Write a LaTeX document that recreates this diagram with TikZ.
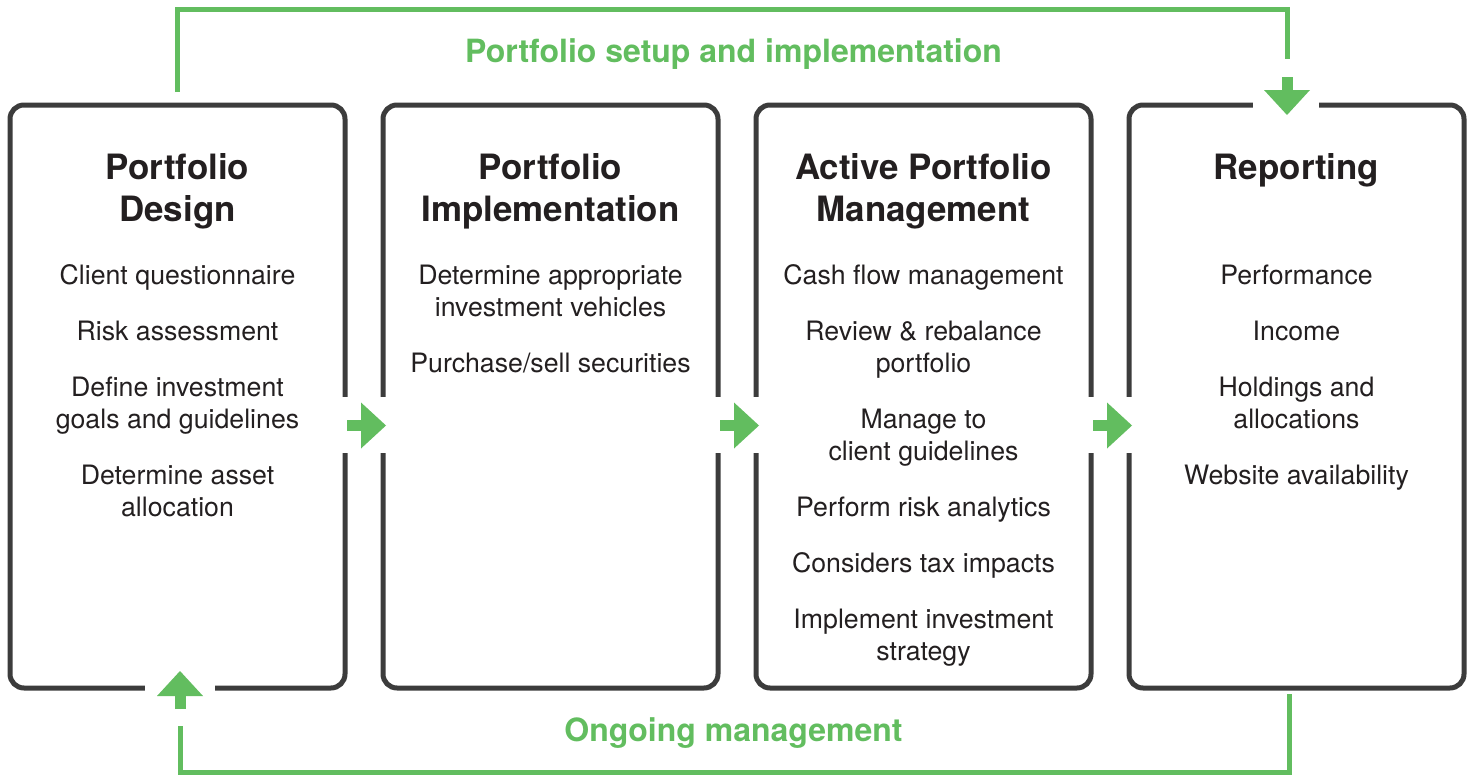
\documentclass[tikz,border=0pt]{standalone}
\usepackage{fontspec}
\setmainfont{TeX Gyre Heros}
\usetikzlibrary{arrows.meta}
\definecolor{grn}{RGB}{98,189,95}
\definecolor{boxgray}{RGB}{60,60,60}
\definecolor{txt}{RGB}{35,31,32}
\begin{document}
\begin{tikzpicture}[x=1pt,y=-1pt,
  box/.style={draw=boxgray,line width=5pt,rounded corners=14pt,minimum width=335pt,minimum height=583pt,inner sep=0pt},
  ttl/.style={anchor=base,inner sep=0pt,text=txt,font=\fontsize{34.9}{40}\selectfont\bfseries},
  item/.style={anchor=base,inner sep=0pt,text=txt,font=\fontsize{26.7}{32}\selectfont},
  glabel/.style={anchor=base,inner sep=0pt,text=grn,font=\fontsize{32}{38}\selectfont\bfseries},
  loopline/.style={draw=grn,line width=5pt},
  fatarrow/.style={draw=grn,fill=grn,line width=11pt,-{Triangle[length=25pt,width=46pt,line width=0pt]}},
  gap/.style={fill=white,draw=none}]
\useasboundingbox (0,0) rectangle (1472,776);
% boxes
\node[box] (b1) at (177.5,396.5) {};
\node[box] (b2) at (550.5,396.5) {};
\node[box] (b3) at (923.5,396.5) {};
\node[box] (b4) at (1296.5,396.5) {};
% gaps in box outlines
\fill[gap] (338,397) rectangle (391,453);
\fill[gap] (711,397) rectangle (764,453);
\fill[gap] (1084,397) rectangle (1137,453);
\fill[gap] (1253,96) rectangle (1319,114);
\fill[gap] (145,679) rectangle (215,697);
% fat arrows
\coordinate (a1s) at (347,425.5); \coordinate (a1e) at (386,425.5);
\coordinate (a2s) at (720,425.5); \coordinate (a2e) at (759,425.5);
\coordinate (a3s) at (1093,425.5); \coordinate (a3e) at (1132,425.5);
\coordinate (a4s) at (1287,77); \coordinate (a4e) at (1287,115);
\coordinate (a5s) at (180,709); \coordinate (a5e) at (180,671);
\draw[fatarrow] (a1s) -- (a1e);
\draw[fatarrow] (a2s) -- (a2e);
\draw[fatarrow] (a3s) -- (a3e);
\draw[fatarrow] (a4s) -- (a4e);
\draw[fatarrow] (a5s) -- (a5e);
% loop lines
\coordinate (t1) at (177.5,92); \coordinate (t2) at (1287,10); \coordinate (t3) at (1287,59);
\draw[loopline] (t1) |- (t2) -- (t3);
\coordinate (u1) at (1289,694); \coordinate (u2) at (180,772); \coordinate (u3) at (180,726);
\draw[loopline] (u1) |- (u2) -- (u3);
% labels
\node[glabel] (lab1) at (733.5,63) {Portfolio setup and implementation};
\node[glabel] (lab2) at (733.5,741) {Ongoing management};
% box 1
\node[ttl] (b1t1) at (177.5,179) {Portfolio};
\node[ttl] (b1t2) at (177.5,221) {Design};
\node[item] (b1i1) at (177.5,284) {Client questionnaire};
\node[item] (b1i2) at (177.5,340) {Risk assessment};
\node[item] (b1i3) at (177.5,396) {Define investment};
\node[item] (b1i4) at (177.5,428) {goals and guidelines};
\node[item] (b1i5) at (177.5,484) {Determine asset};
\node[item] (b1i6) at (177.5,516) {allocation};
% box 2
\node[ttl] (b2t1) at (550.5,179) {Portfolio};
\node[ttl] (b2t2) at (550.5,221) {Implementation};
\node[item] (b2i1) at (550.5,284) {Determine appropriate};
\node[item] (b2i2) at (550.5,316) {investment vehicles};
\node[item] (b2i3) at (550.5,372) {Purchase/sell securities};
% box 3
\node[ttl] (b3t1) at (923.5,179) {Active Portfolio};
\node[ttl] (b3t2) at (923.5,221) {Management};
\node[item] (b3i1) at (923.5,284) {Cash flow management};
\node[item] (b3i2) at (923.5,340) {Review \& rebalance};
\node[item] (b3i3) at (923.5,372) {portfolio};
\node[item] (b3i4) at (923.5,428) {Manage to};
\node[item] (b3i5) at (923.5,460) {client guidelines};
\node[item] (b3i6) at (923.5,516) {Perform risk analytics};
\node[item] (b3i7) at (923.5,572) {Considers tax impacts};
\node[item] (b3i8) at (923.5,628) {Implement investment};
\node[item] (b3i9) at (923.5,660) {strategy};
% box 4
\node[ttl] (b4t1) at (1296.5,179) {Reporting};
\node[item] (b4i1) at (1296.5,284) {Performance};
\node[item] (b4i2) at (1296.5,340) {Income};
\node[item] (b4i3) at (1296.5,396) {Holdings and};
\node[item] (b4i4) at (1296.5,428) {allocations};
\node[item] (b4i5) at (1296.5,484) {Website availability};
\end{tikzpicture}
\end{document}
